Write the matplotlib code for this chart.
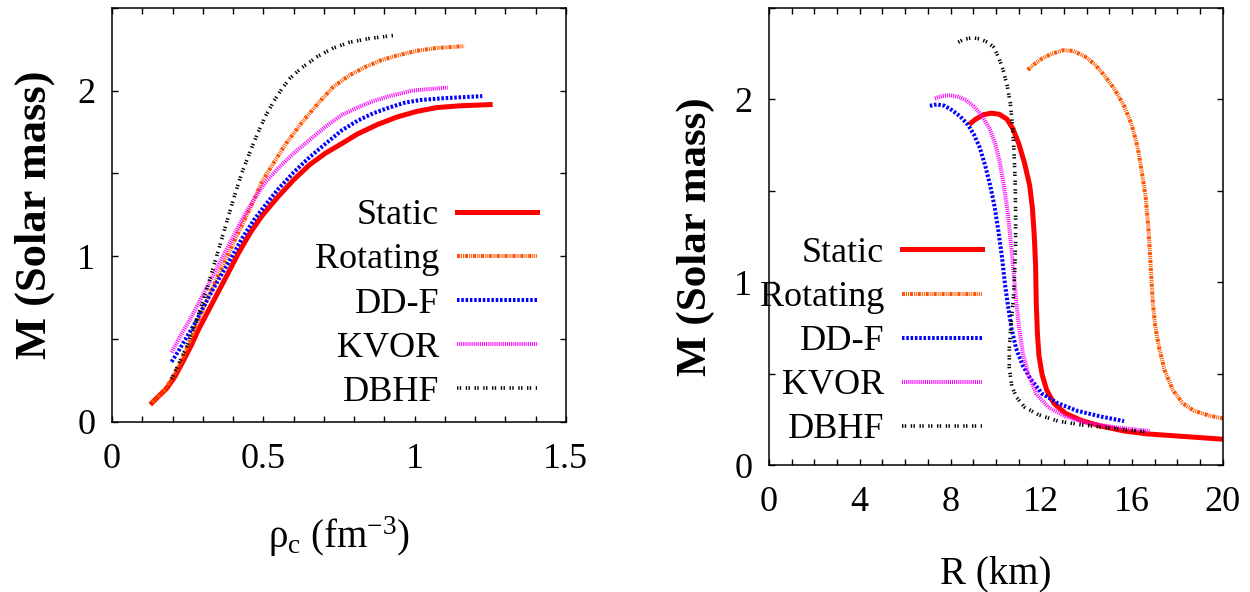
import matplotlib
matplotlib.use("Agg")
import matplotlib.pyplot as plt
from matplotlib.ticker import MultipleLocator, FixedLocator, FixedFormatter

plt.rcParams['font.family'] = ['Liberation Serif', 'DejaVu Serif']
plt.rcParams['mathtext.fontset'] = 'custom'
plt.rcParams['mathtext.rm'] = 'Liberation Serif'
plt.rcParams['mathtext.it'] = 'Liberation Serif'
plt.rcParams['lines.scale_dashes'] = False

# ---- left panel: M vs central density rho_c ----
rho_static = [0.1325, 0.155, 0.181, 0.207, 0.234, 0.26, 0.286, 0.312, 0.345, 0.378, 0.417, 0.457,
              0.496, 0.549, 0.601, 0.654, 0.706, 0.759, 0.811, 0.877, 0.942, 1.008, 1.074, 1.152, 1.25]
m_static_rho = [0.115, 0.156, 0.202, 0.270, 0.362, 0.454, 0.557, 0.648, 0.763, 0.877, 1.015, 1.141,
                1.244, 1.359, 1.462, 1.553, 1.622, 1.679, 1.737, 1.794, 1.840, 1.874, 1.897, 1.908, 1.915]

rho_rot = [0.1325, 0.168, 0.194, 0.221, 0.247, 0.273, 0.299, 0.326, 0.352, 0.385, 0.417, 0.457,
           0.496, 0.535, 0.575, 0.627, 0.68, 0.732, 0.785, 0.837, 0.89, 0.942, 1.008, 1.074, 1.165]
m_rot_rho = [0.115, 0.179, 0.247, 0.339, 0.442, 0.557, 0.671, 0.786, 0.889, 1.015, 1.141, 1.29,
             1.45, 1.565, 1.679, 1.805, 1.92, 2.023, 2.092, 2.142, 2.183, 2.211, 2.24, 2.257, 2.268]

rho_ddf = [0.197, 0.221, 0.247, 0.273, 0.299, 0.326, 0.358, 0.391, 0.43, 0.47, 0.509, 0.549,
           0.601, 0.654, 0.706, 0.759, 0.811, 0.864, 0.916, 0.969, 1.021, 1.10, 1.224]
m_ddf_rho = [0.362, 0.431, 0.511, 0.591, 0.683, 0.774, 0.877, 0.981, 1.107, 1.221, 1.313, 1.404,
             1.507, 1.599, 1.679, 1.759, 1.817, 1.863, 1.897, 1.927, 1.943, 1.954, 1.966]

rho_kvor = [0.197, 0.227, 0.26, 0.293, 0.326, 0.358, 0.391, 0.43, 0.47, 0.509, 0.549, 0.601,
            0.654, 0.706, 0.759, 0.811, 0.864, 0.916, 0.995, 1.11]
m_kvor_rho = [0.419, 0.522, 0.625, 0.74, 0.855, 0.969, 1.084, 1.221, 1.347, 1.45, 1.53, 1.622,
              1.702, 1.782, 1.851, 1.897, 1.936, 1.966, 2.0, 2.018]

rho_dbhf = [0.197, 0.221, 0.247, 0.273, 0.299, 0.326, 0.352, 0.378, 0.404, 0.43, 0.457, 0.483,
            0.509, 0.535, 0.562, 0.588, 0.627, 0.68, 0.732, 0.785, 0.85, 0.929]
m_dbhf_rho = [0.259, 0.351, 0.454, 0.58, 0.717, 0.877, 1.038, 1.198, 1.359, 1.507, 1.633, 1.748,
              1.851, 1.936, 2.011, 2.073, 2.137, 2.206, 2.257, 2.291, 2.314, 2.332]

# ---- right panel: M vs radius R ----
r_static = [8.91, 9.11, 9.46, 9.80, 10.15, 10.49, 10.75, 11.01, 11.26, 11.49, 11.61, 11.69, 11.75,
            11.78, 11.83, 11.90, 12.04, 12.24, 12.55, 13.07, 13.76, 14.62, 15.65, 16.68, 18.4, 20.0]
m_static_r = [1.870, 1.890, 1.915, 1.923, 1.917, 1.890, 1.838, 1.756, 1.652, 1.528, 1.404, 1.259, 1.093,
              0.886, 0.720, 0.596, 0.493, 0.410, 0.338, 0.282, 0.244, 0.213, 0.186, 0.170, 0.155, 0.141]

r_rot = [11.40, 11.69, 12.04, 12.47, 12.98, 13.41, 13.93, 14.36, 14.79, 15.22, 15.65, 15.99, 16.25,
         16.42, 16.60, 16.72, 16.82, 16.92, 17.02, 17.20, 17.45, 17.80, 18.23, 18.74, 19.43, 20.0]
m_rot_r = [2.159, 2.190, 2.222, 2.248, 2.267, 2.263, 2.232, 2.190, 2.128, 2.056, 1.963, 1.859, 1.735,
           1.611, 1.466, 1.300, 1.093, 0.886, 0.762, 0.638, 0.513, 0.410, 0.338, 0.296, 0.269, 0.255]

r_ddf = [7.09, 7.40, 7.74, 8.08, 8.43, 8.77, 9.03, 9.29, 9.54, 9.75, 9.94, 10.11, 10.27, 10.40,
         10.54, 10.70, 10.89, 11.18, 11.52, 12.04, 12.73, 13.59, 14.62, 15.65]
m_ddf_r = [1.963, 1.971, 1.963, 1.938, 1.905, 1.859, 1.807, 1.735, 1.631, 1.528, 1.414, 1.280, 1.135,
           0.990, 0.865, 0.741, 0.638, 0.545, 0.472, 0.389, 0.338, 0.296, 0.265, 0.240]

r_kvor = [7.31, 7.65, 8.00, 8.34, 8.69, 9.03, 9.37, 9.72, 9.97, 10.18, 10.35, 10.52, 10.66, 10.78,
          10.89, 11.01, 11.18, 11.44, 11.78, 12.30, 13.07, 14.10, 15.48, 16.77]
m_kvor_r = [2.004, 2.017, 2.021, 2.012, 1.994, 1.959, 1.911, 1.839, 1.756, 1.652, 1.528, 1.383, 1.217,
            1.052, 0.907, 0.762, 0.617, 0.493, 0.389, 0.317, 0.265, 0.228, 0.203, 0.186]

r_dbhf = [8.34, 8.60, 8.94, 9.29, 9.63, 9.89, 10.11, 10.32, 10.49, 10.63, 10.73, 10.80, 10.85, 10.87,
          10.87, 10.83, 10.77, 10.66, 10.59, 10.59, 10.70, 10.92, 11.26, 11.87, 12.73, 13.76, 14.96, 16.6]
m_dbhf_r = [2.311, 2.327, 2.335, 2.329, 2.311, 2.284, 2.232, 2.159, 2.077, 1.983, 1.859, 1.714, 1.549,
            1.383, 1.217, 1.052, 0.907, 0.762, 0.638, 0.534, 0.431, 0.369, 0.317, 0.275, 0.240, 0.220,
            0.203, 0.182]

labels = ['Static', 'Rotating', 'DD-F', 'KVOR', 'DBHF']
styles = [
    dict(color='#ff0000', lw=3.6, ls='-'),
    dict(color='#ff5500', lw=2.9, dashes=(2.2, 0.7, 0.7, 0.7, 0.7, 0.7)),
    dict(color='#0000ff', lw=2.9, dashes=(1.8, 1.3)),
    dict(color='#ff00ff', lw=2.9, dashes=(0.75, 0.75)),
    dict(color='#000000', lw=2.6, dashes=(1.0, 1.0, 1.0, 3.3)),
]

FS = 26

fig = plt.figure(figsize=(12.5, 5.92), dpi=100)
ax1 = fig.add_axes([0.0896, 0.2875, 0.363, 0.6995])
ax2 = fig.add_axes([0.6152, 0.2145, 0.363, 0.7727])

left_data = [(rho_static, m_static_rho), (rho_rot, m_rot_rho), (rho_ddf, m_ddf_rho),
             (rho_kvor, m_kvor_rho), (rho_dbhf, m_dbhf_rho)]
right_data = [(r_static, m_static_r), (r_rot, m_rot_r), (r_ddf, m_ddf_r),
              (r_kvor, m_kvor_r), (r_dbhf, m_dbhf_r)]

for (x, y), lab, st in zip(left_data, labels, styles):
    ax1.plot(x, y, label=lab, solid_joinstyle='round', **st)
for (x, y), lab, st in zip(right_data, labels, styles):
    ax2.plot(x, y, label=lab, solid_joinstyle='round', **st)

ax1.set_xlim(0, 1.5)
ax1.set_ylim(0, 2.5)
ax1.xaxis.set_major_locator(FixedLocator([0, 0.5, 1.0, 1.5]))
ax1.xaxis.set_major_formatter(FixedFormatter(['0', '0.5', '1', '1.5']))
ax1.xaxis.set_minor_locator(MultipleLocator(0.1))

ax2.set_xlim(0, 20)
ax2.set_ylim(0, 2.5)
ax2.xaxis.set_major_locator(FixedLocator([0, 4, 8, 12, 16, 20]))
ax2.xaxis.set_minor_locator(MultipleLocator(1))

for ax in (ax1, ax2):
    ax.yaxis.set_major_locator(FixedLocator([0, 1, 2]))
    ax.yaxis.set_minor_locator(MultipleLocator(0.5))
    ax.tick_params(which='both', direction='in', top=True, right=True,
                   length=4.5, width=1.0)
    ax.tick_params(axis='x', which='major', pad=15, labelsize=FS)
    ax.tick_params(axis='y', which='major', pad=12, labelsize=FS)
    for sp in ax.spines.values():
        sp.set_linewidth(1.1)

ax1.set_ylabel('M (Solar mass)', fontsize=32, fontweight='bold', labelpad=16)
ax2.set_ylabel('M (Solar mass)', fontsize=31, fontweight='bold', labelpad=14)
ax1.set_xlabel('\u03c1$_c$ (fm$^{-3}$)', fontsize=28, labelpad=28)
ax2.set_xlabel('R (km)', fontsize=28, labelpad=26)

leg_kw = dict(frameon=False, markerfirst=False, fontsize=FS, handlelength=2.2,
              handletextpad=0.5, labelspacing=0.3, borderpad=0, borderaxespad=0,
              loc='upper right')
ax1.legend(bbox_to_anchor=(0.936, 0.538), **leg_kw)
ax2.legend(bbox_to_anchor=(0.469, 0.499), **leg_kw)

fig.savefig('out.png', dpi=100)
